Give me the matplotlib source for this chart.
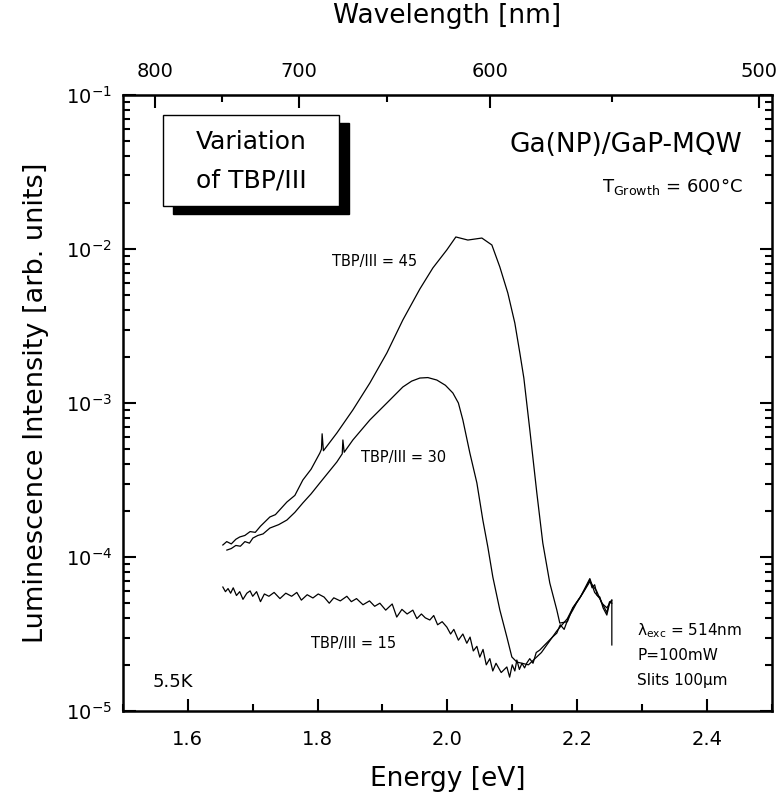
import numpy as np
import matplotlib
matplotlib.use("Agg")
import matplotlib.pyplot as plt
from matplotlib.ticker import LogLocator, NullFormatter, FixedLocator, MultipleLocator
from matplotlib.patches import Rectangle

plt.rcParams['font.family'] = ['DejaVu Sans']
plt.rcParams['mathtext.default'] = 'regular'

HC = 1239.84  # eV*nm

# PL spectra at 5.5 K, log10 of intensity vs photon energy (eV)
energy_45 = [1.654, 1.660, 1.667, 1.674, 1.680, 1.688, 1.696, 1.704, 1.712, 1.7265,
             1.735, 1.7527, 1.765, 1.7773, 1.790, 1.8035, 1.806, 1.807, 1.809, 1.8297,
             1.8544, 1.8806, 1.9068, 1.9314, 1.9576, 1.9777, 1.9992, 2.0131, 2.0316,
             2.0532, 2.0686, 2.0809, 2.0932, 2.1040, 2.1117, 2.1179, 2.1271, 2.1379,
             2.1471, 2.1579, 2.1687, 2.1733, 2.1850, 2.1934, 2.2050, 2.2196, 2.2270,
             2.2350, 2.2458, 2.2500, 2.2535]
logI_45 = [-3.922, -3.900, -3.915, -3.885, -3.870, -3.860, -3.835, -3.840, -3.800, -3.740,
           -3.725, -3.643, -3.600, -3.500, -3.430, -3.325, -3.30, -3.20, -3.31, -3.195,
           -3.045, -2.870, -2.675, -2.461, -2.260, -2.123, -2.006, -1.922, -1.942,
           -1.929, -1.974, -2.117, -2.286, -2.481, -2.675, -2.838, -3.175, -3.584,
           -3.909, -4.169, -4.344, -4.429, -4.420, -4.330, -4.260, -4.140, -4.230,
           -4.270, -4.360, -4.290, -4.300]

energy_30 = [1.6602, 1.667, 1.674, 1.681, 1.688, 1.695, 1.7003, 1.708, 1.716, 1.7265,
             1.740, 1.7527, 1.765, 1.7773, 1.790, 1.8035, 1.8297, 1.838, 1.839, 1.841,
             1.8544, 1.8806, 1.9068, 1.9314, 1.945, 1.9576, 1.970, 1.9838, 1.997,
             2.0085, 2.017, 2.0239, 2.0347, 2.0455, 2.0547, 2.0624, 2.0701, 2.0809,
             2.0917, 2.0994, 2.1071, 2.1250, 2.1450, 2.1687, 2.1850, 2.1934, 2.2080,
             2.2196, 2.2300, 2.2380, 2.2458, 2.2535]
logI_30 = [-3.955, -3.945, -3.925, -3.930, -3.900, -3.910, -3.877, -3.860, -3.850, -3.812,
           -3.790, -3.760, -3.710, -3.649, -3.590, -3.519, -3.383, -3.33, -3.24, -3.32,
           -3.240, -3.110, -3.000, -2.896, -2.858, -2.838, -2.835, -2.851, -2.885,
           -2.935, -3.000, -3.110, -3.325, -3.519, -3.760, -3.935, -4.130, -4.344,
           -4.519, -4.649, -4.682, -4.700, -4.620, -4.480, -4.400, -4.330, -4.240,
           -4.160, -4.220, -4.300, -4.330, -4.280]

energy_15 = [1.654, 1.658, 1.662, 1.666, 1.670, 1.675, 1.680, 1.685, 1.691, 1.696,
             1.700, 1.706, 1.712, 1.718, 1.725, 1.733, 1.742, 1.751, 1.760, 1.768,
             1.775, 1.784, 1.7928, 1.801, 1.810, 1.818, 1.825, 1.835, 1.8451, 1.852,
             1.860, 1.870, 1.880, 1.888, 1.896, 1.905, 1.915, 1.922, 1.930, 1.938,
             1.9468, 1.953, 1.960, 1.966, 1.973, 1.979, 1.985, 1.992, 1.9992, 2.005,
             2.010, 2.017, 2.0239, 2.030, 2.035, 2.040, 2.0455, 2.050, 2.055, 2.060,
             2.0655, 2.070, 2.075, 2.083, 2.0917, 2.096, 2.100, 2.104, 2.1071, 2.111,
             2.115, 2.119, 2.1225, 2.127, 2.132, 2.137, 2.1425, 2.148, 2.155, 2.162,
             2.1687, 2.174, 2.180, 2.187, 2.1934, 2.199, 2.205, 2.212, 2.2196, 2.223,
             2.227, 2.231, 2.235, 2.240, 2.2458, 2.250, 2.2535, 2.2535]
logI_15 = [-4.195, -4.225, -4.205, -4.235, -4.200, -4.250, -4.225, -4.275, -4.235, -4.220,
           -4.255, -4.225, -4.290, -4.240, -4.255, -4.230, -4.270, -4.235, -4.255, -4.230,
           -4.280, -4.245, -4.266, -4.240, -4.260, -4.300, -4.265, -4.285, -4.255, -4.290,
           -4.270, -4.310, -4.285, -4.320, -4.300, -4.345, -4.305, -4.390, -4.340, -4.370,
           -4.345, -4.400, -4.370, -4.395, -4.409, -4.380, -4.440, -4.420, -4.455, -4.500,
           -4.470, -4.540, -4.500, -4.560, -4.520, -4.610, -4.580, -4.650, -4.600, -4.700,
           -4.660, -4.740, -4.690, -4.750, -4.714, -4.780, -4.700, -4.740, -4.669, -4.730,
           -4.690, -4.720, -4.688, -4.660, -4.690, -4.620, -4.604, -4.580, -4.550, -4.520,
           -4.494, -4.440, -4.470, -4.390, -4.344, -4.300, -4.260, -4.210, -4.149, -4.200,
           -4.180, -4.250, -4.260, -4.330, -4.377, -4.300, -4.279, -4.571]

series = [
    (energy_45, logI_45),
    (energy_30, logI_30),
    (energy_15, logI_15),
]

fig = plt.figure(figsize=(7.78, 7.98), dpi=100)
ax = fig.add_axes([0.158, 0.109, 0.834, 0.772])

for e, li in series:
    ax.plot(e, 10.0 ** np.asarray(li), color='black', lw=0.9)

ax.set_yscale('log')
ax.set_xlim(1.5, 2.5)
ax.set_ylim(1e-5, 1e-1)

ax.xaxis.set_major_locator(FixedLocator([1.6, 1.8, 2.0, 2.2, 2.4]))
ax.xaxis.set_minor_locator(MultipleLocator(0.1))
ax.set_xticklabels(['1.6', '1.8', '2.0', '2.2', '2.4'])
ax.yaxis.set_major_locator(LogLocator(base=10, numticks=10))
ax.yaxis.set_minor_locator(LogLocator(base=10, subs=np.arange(2, 10), numticks=10))
ax.yaxis.set_minor_formatter(NullFormatter())

ax.tick_params(which='both', direction='in', width=1.5, labelsize=14, top=False, right=True)
ax.tick_params(which='major', length=9)
ax.tick_params(axis='x', which='major', pad=14)
ax.tick_params(axis='y', which='major', pad=8)
ax.tick_params(which='minor', length=5)
for sp in ax.spines.values():
    sp.set_linewidth(1.8)

ax.set_xlabel('Energy [eV]', fontsize=19, labelpad=12)
ax.set_ylabel('Luminescence Intensity [arb. units]', fontsize=19.5, labelpad=12)

# wavelength scale on top
def e2l(x):
    x = np.asarray(x, dtype=float)
    with np.errstate(divide='ignore'):
        return HC / x

sec = ax.secondary_xaxis('top', functions=(e2l, e2l))
sec.xaxis.set_major_locator(FixedLocator([800, 700, 600, 500]))
sec.xaxis.set_minor_locator(FixedLocator([750, 650, 550]))
sec.tick_params(which='both', direction='in', width=1.5, labelsize=14)
sec.tick_params(which='major', length=9, pad=10)
sec.tick_params(which='minor', length=5)
sec.set_xlabel('Wavelength [nm]', fontsize=19, labelpad=28)

# annotations
tr = ax.transAxes
ax.text(0.955, 0.918, 'Ga(NP)/GaP-MQW', transform=tr, ha='right', va='center', fontsize=19)
ax.text(0.955, 0.852, r'T$_{Growth}$ = 600°C', transform=tr, ha='right', va='center', fontsize=13)

ax.text(0.388, 0.729, 'TBP/III = 45', fontsize=10.5, ha='center', va='center', transform=tr)
ax.text(0.432, 0.411, 'TBP/III = 30', fontsize=10.5, ha='center', va='center', transform=tr)
ax.text(0.356, 0.110, 'TBP/III = 15', fontsize=10.5, ha='center', va='center', transform=tr)
ax.text(0.045, 0.047, '5.5K', fontsize=13, ha='left', va='center', transform=tr)
ax.text(0.793, 0.130, r'$\lambda_{exc}$ = 514nm', fontsize=11, ha='left', va='center', transform=tr)
ax.text(0.793, 0.090, 'P=100mW', fontsize=11, ha='left', va='center', transform=tr)
ax.text(0.793, 0.049, 'Slits 100µm', fontsize=11, ha='left', va='center', transform=tr)

# framed title box with drop shadow
bx0, by0, bw, bh = 0.062, 0.819, 0.271, 0.149
ax.add_patch(Rectangle((bx0 + 0.015, by0 - 0.013), bw, bh, transform=tr,
                       facecolor='black', edgecolor='black', zorder=4))
ax.add_patch(Rectangle((bx0, by0), bw, bh, transform=tr,
                       facecolor='white', edgecolor='black', lw=1.0, zorder=5))
ax.text(bx0 + bw / 2, by0 + bh * 0.70, 'Variation', transform=tr, ha='center',
        va='center', fontsize=18, zorder=6)
ax.text(bx0 + bw / 2, by0 + bh * 0.28, 'of TBP/III', transform=tr, ha='center',
        va='center', fontsize=18, zorder=6)

fig.savefig('out.png', dpi=100)
